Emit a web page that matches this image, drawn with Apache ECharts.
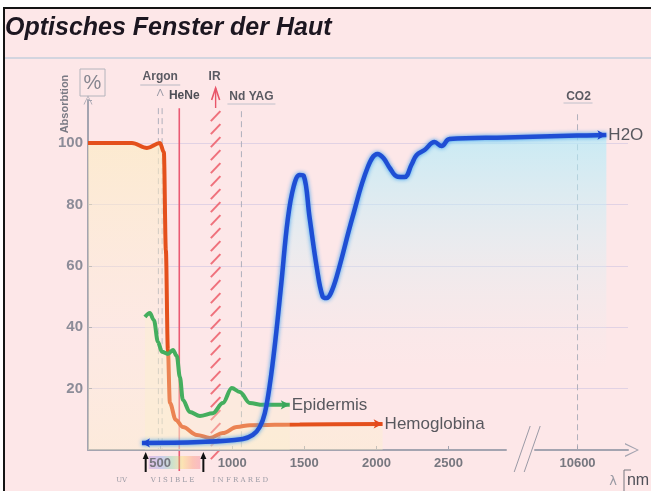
<!DOCTYPE html>
<html><head><meta charset="utf-8">
<script src="https://cdn.jsdelivr.net/npm/echarts@6/dist/echarts.min.js"></script>
<style>html,body{margin:0;padding:0;background:#fff}#c{width:651px;height:491px}</style>
</head><body><div id="c"></div>
<script>
// ---- data ----
const chartTitle = 'Optisches Fenster der Haut';
const xTickLabels = [500, 1000, 1500, 2000, 2500, 10600];
const yTickLabels = [20, 40, 60, 80, 100];
const hemoNm  = [0, 305, 409, 499, 526, 540, 554, 568, 609, 658, 755, 845, 935, 1032, 1122, 1468, 2043];
const hemoAbs = [100, 100, 98.4, 100, 97, 65, 32.6, 15.3, 9.8, 7.5, 4.9, 3.9, 5.5, 7.5, 8.1, 8.3, 8.5];
const epiNm   = [395, 429, 457, 485, 512, 554, 589, 616, 637, 658, 706, 776, 866, 935, 997, 1053, 1122, 1212, 1399];
const epiAbs  = [43.3, 44.6, 42.3, 35.2, 32, 31.3, 32.6, 30.6, 23.8, 16.3, 12.4, 11.1, 12, 15.3, 20.2, 18.9, 15.3, 14.7, 14.7];
const h2oNm   = [374, 776, 1073, 1143, 1191, 1226, 1260, 1300, 1340, 1385, 1427, 1468, 1496, 1537, 1586, 1627, 1655, 1683, 1724, 1835, 1939, 2008, 2050, 2091, 2147, 2195, 2244, 2278, 2334, 2403, 2452, 2507, 2900, 10600, 10800];
const h2oAbs  = [2.3, 2.6, 3.6, 4.9, 7.5, 12, 21, 36, 54, 75, 86, 89.6, 89.3, 75.6, 59.6, 50, 49.5, 51, 56.4, 75.9, 92, 96.4, 95, 92, 89, 88.9, 93, 96, 97.7, 100.3, 99, 101.3, 101.8, 102.4, 102.6];
const argonNm = [488, 514];
const heneNm = 633;
const irBandNm = [845, 925];
const ndyagNm = 1064;
const co2Nm = 10600;
const visibleNm = [400, 800];

function pairs(xs, ys, first, last) {
  return xs.map((x, i) => {
    const it = { value: [x, ys[i]] };
    if (i === 0 && first) Object.assign(it, first);
    if (i === xs.length - 1 && last) Object.assign(it, last);
    return it;
  });
}
const arrowR = { symbol: 'arrow', symbolSize: [7, 9], symbolRotate: -90 };
const arrowL = { symbol: 'arrow', symbolSize: [7, 8], symbolRotate: 90 };

const chart = echarts.init(document.getElementById('c'), null, { renderer: 'canvas' });
const G = { left: 88, right: 23, top: 100, bottom: 41 };
const gray = '#8c8c98';
const option = {
  backgroundColor: '#fde7e8',
  animation: false,
  grid: G,
  xAxis: {
    type: 'value', min: 0, max: 10950,
    breaks: [{ start: 2900, end: 10300, gap: '5.2%' }],
    breakArea: { show: true, expandOnClick: false, zigzagAmplitude: 0,
      itemStyle: { color: 'rgba(0,0,0,0)', borderColor: 'rgba(0,0,0,0)', borderWidth: 0, opacity: 0 } },
    axisLine: { show: true, symbol: ['none', 'path://M0,20 L10,0 L20,20 L18,20 L10,3 L2,20 Z'], symbolSize: [30, 14], symbolOffset: [0, 4],
      lineStyle: { color: '#a4a4b0', width: 2 } },
    axisTick: { show: true, inside: true, length: 4, customValues: xTickLabels, lineStyle: { color: '#a4a4b0' } },
    axisLabel: { customValues: xTickLabels, margin: 7, color: '#77777f', fontSize: 13, fontWeight: 'bold', fontFamily: 'Liberation Sans',
      formatter: v => String(Math.round(v)) },
    splitLine: { show: false }
  },
  yAxis: {
    type: 'value', min: 0, max: 114, interval: 20,
    axisLine: { show: true, symbol: ['none', 'path://M0,20 L10,0 L20,20 L18,20 L10,3 L2,20 Z'], symbolSize: [16, 9], symbolOffset: [0, 0],
      lineStyle: { color: '#a4a4b0', width: 2 } },
    axisTick: { show: true, inside: true, length: 4, lineStyle: { color: '#a4a4b0' } },
    axisLabel: { margin: 5, color: gray, fontSize: 15, fontWeight: 'bold', fontFamily: 'Liberation Sans',
      formatter: v => (yTickLabels.indexOf(v) >= 0) ? String(v) : '' },
    splitLine: { show: true, showMinLine: false, showMaxLine: false, lineStyle: { color: 'rgba(190,185,225,0.45)', width: 1 } }
  },
  series: [
    {
      name: 'Hemoglobina', type: 'line', smooth: 0.35, smoothMonotone: 'x', symbol: 'none', z: 4,
      data: pairs(hemoNm, hemoAbs, null, arrowR),
      itemStyle: { color: '#e4481c' },
      lineStyle: { color: '#e4501c', width: 4 },
      areaStyle: { color: new echarts.graphic.LinearGradient(0, 0, 0, 1, [
        { offset: 0, color: 'rgba(252,236,196,0.95)' }, { offset: 0.6, color: 'rgba(252,238,210,0.3)' }, { offset: 1, color: 'rgba(252,240,200,0.55)' }]) },
      endLabel: { show: true, formatter: 'Hemoglobina', color: '#58585e', fontSize: 17, fontFamily: 'Liberation Sans', distance: 2 }
    },
    {
      name: 'Epidermis', type: 'line', smooth: 0.35, smoothMonotone: 'x', symbol: 'none', z: 5,
      data: pairs(epiNm, epiAbs, null, arrowR),
      itemStyle: { color: '#3aa65a' },
      lineStyle: { color: '#44ae5e', width: 4 },
      areaStyle: { color: 'rgba(253,242,200,0.45)' },
      endLabel: { show: true, formatter: 'Epidermis', color: '#58585e', fontSize: 17, fontFamily: 'Liberation Sans', distance: 2 }
    },
    {
      name: 'H2O', type: 'line', smooth: 0.4, symbol: 'none', z: 6,
      data: pairs(h2oNm, h2oAbs, arrowL, arrowR),
      itemStyle: { color: '#1d45d0' },
      lineStyle: { color: '#1f4ed4', width: 4.5, shadowColor: 'rgba(40,150,240,0.9)', shadowBlur: 4 },
      areaStyle: { color: new echarts.graphic.LinearGradient(0, 0, 0, 1, [
        { offset: 0, color: 'rgba(175,236,250,0.95)' }, { offset: 0.35, color: 'rgba(200,242,250,0.5)' }, { offset: 0.75, color: 'rgba(230,240,240,0)' }]) },
      endLabel: { show: true, formatter: 'H2O', color: '#58585e', fontSize: 17, fontFamily: 'Liberation Sans', distance: 2 }
    }
  ]
};
chart.setOption(option);

// ---- decorations positioned through the chart's own scales ----
const P = (nm, v) => chart.convertToPixel({ gridIndex: 0 }, [nm, v]);
const g = [];
const txt = (x, y, text, font, fill, extra) => g.push(Object.assign({ type: 'text', x, y, style: { text, font, fill, textAlign: 'center', textVerticalAlign: 'middle' } }, extra || {}));
const line = (x1, y1, x2, y2, stroke, lineWidth, lineDash) => g.push({ type: 'line', shape: { x1, y1, x2, y2 }, style: { stroke, lineWidth, lineDash } });

// frame & title
g.push({ type: 'rect', shape: { x: 0, y: 0, width: 651, height: 7 }, style: { fill: '#fff' } });
g.push({ type: 'rect', shape: { x: 0, y: 0, width: 3, height: 491 }, style: { fill: '#fff' } });
g.push({ type: 'rect', shape: { x: 3, y: 7, width: 648, height: 2 }, style: { fill: '#141414' } });
g.push({ type: 'rect', shape: { x: 3, y: 7, width: 2, height: 484 }, style: { fill: '#141414' } });
g.push({ type: 'rect', shape: { x: 5, y: 57, width: 646, height: 2 }, style: { fill: '#d3d5df' } });
g.push({ type: 'text', x: 5, y: 28, style: { text: chartTitle, font: 'italic bold 25px "Liberation Sans"', fill: '#1c1620', textVerticalAlign: 'middle' } });

// y axis name
g.push({ type: 'rect', shape: { x: 80, y: 69, width: 25, height: 27 }, style: { fill: 'none', stroke: '#b4b4bc', lineWidth: 1 } });
txt(92.5, 83, '%', '20px "Liberation Sans"', '#85858f');
txt(65, 104, 'Absorbtion', 'bold 11px "Liberation Sans"', '#7a7a84', { rotation: Math.PI / 2 });

// Argon
const a1 = P(argonNm[0], 112), a2 = P(argonNm[1], 112), a0 = P(argonNm[0], 0), a3 = P(argonNm[1], 0);
line(a1[0], a1[1] + 2, a0[0], a0[1], '#b0b0bc', 1, [6, 4]);
line(a2[0], a2[1] + 2, a3[0], a3[1], '#b0b0bc', 1, [6, 4]);
const ac = (a1[0] + a2[0]) / 2;
g.push({ type: 'polyline', shape: { points: [[ac - 3, 96], [ac, 89], [ac + 3, 96]] }, style: { stroke: '#9a9aa6', lineWidth: 1, fill: 'none' } });
line(ac - 20, 85, ac + 20, 85, '#b8b8c2', 1);
txt(ac, 77, 'Argon', 'bold 12px "Liberation Sans"', '#5a5a62');

// HeNe
const h1 = P(heneNm, 112), h0 = P(heneNm, 0);
line(h1[0], h1[1] + 2, h0[0], h0[1] + 21, '#ea5a74', 1.6);
txt(h1[0] + 5, 96, 'HeNe', 'bold 12px "Liberation Sans"', '#4e4e56');

// IR hatched band
const i1 = P(irBandNm[0], 113), i2 = P(irBandNm[1], 0);
const ih = [];
for (let y = i1[1] + 10; y < i2[1] + 8; y += 13) {
  ih.push({ type: 'line', shape: { x1: i1[0] + 1, y1: y + 8, x2: i2[0] - 1, y2: y - 2 }, style: { stroke: 'rgba(236,92,104,0.85)', lineWidth: 2 } });
}
g.push({ type: 'group', children: ih });
const ic = (i1[0] + i2[0]) / 2;
g.push({ type: 'polyline', shape: { points: [[ic - 4, 100], [ic, 88], [ic + 4, 100]] }, style: { stroke: '#e8566a', lineWidth: 1.6, fill: 'none' } });
line(ic, 88, ic, 108, '#e8566a', 1.4);
txt(ic - 1, 77, 'IR', 'bold 12px "Liberation Sans"', '#5a5a62');

// Nd YAG
const n1 = P(ndyagNm, 111), n0 = P(ndyagNm, 0);
line(n1[0], n1[1] + 2, n0[0], n0[1], '#b0b0bc', 1, [6, 4]);
txt(n1[0] + 10, 97, 'Nd YAG', 'bold 12px "Liberation Sans"', '#5a5a62');
line(n1[0] - 14, 104, n1[0] + 34, 104, '#c0c0ca', 1);

// CO2
const c1 = P(co2Nm, 110), c0 = P(co2Nm, 0);
line(c1[0], c1[1] + 2, c0[0], c0[1], '#b0b0bc', 1, [6, 4]);
txt(c1[0] + 1, 97, 'CO2', 'bold 12px "Liberation Sans"', '#5a5a62');
line(c1[0] - 14, 103, c1[0] + 15, 103, '#c0c0ca', 1);

// break marks
const b = P(2900, 0);
line(b[0] + 8, b[1] + 22, b[0] + 24, b[1] - 24, '#9a9aa6', 1);
line(b[0] + 18, b[1] + 22, b[0] + 34, b[1] - 24, '#9a9aa6', 1);

// spectrum below the axis
const v0 = P(visibleNm[0], 0), v1 = P(visibleNm[1], 0);
g.push({ type: 'rect', shape: { x: v0[0] + 3, y: v0[1] + 6, width: v1[0] - v0[0] - 6, height: 13 },
  style: { fill: new echarts.graphic.LinearGradient(0, 0, 1, 0, [
    { offset: 0, color: 'rgba(170,110,220,0.3)' }, { offset: 0.25, color: 'rgba(90,140,240,0.3)' },
    { offset: 0.45, color: 'rgba(90,210,140,0.3)' }, { offset: 0.65, color: 'rgba(250,220,80,0.35)' },
    { offset: 0.85, color: 'rgba(250,130,90,0.35)' }, { offset: 1, color: 'rgba(240,90,110,0.3)' }]) } });
[v0, v1].forEach(p => {
  line(p[0], p[1] + 22, p[0], p[1] + 6, '#111', 2);
  g.push({ type: 'polygon', shape: { points: [[p[0] - 3, p[1] + 9], [p[0], p[1] + 2], [p[0] + 3, p[1] + 9]] }, style: { fill: '#111' } });
});
txt(v0[0] - 24, v0[1] + 30, 'UV', '7px "DejaVu Serif"', '#9a9aa4');
txt((v0[0] + v1[0]) / 2 - 2, v0[1] + 30, 'V I S I B L E', '7px "DejaVu Serif"', '#9a9aa4');
txt(v1[0] + 37, v0[1] + 30, 'I N F R A R E D', '7px "DejaVu Serif"', '#9a9aa4');

// x axis unit
txt(613, 482, 'λ', '13px "DejaVu Sans"', '#9a9aa4');
line(624, 470, 624, 491, '#77777f', 1);
line(624, 470, 631, 470, '#77777f', 1);
txt(638, 481, 'nm', '16px "Liberation Sans"', '#505058');

chart.setOption({ graphic: g });
</script></body></html>
